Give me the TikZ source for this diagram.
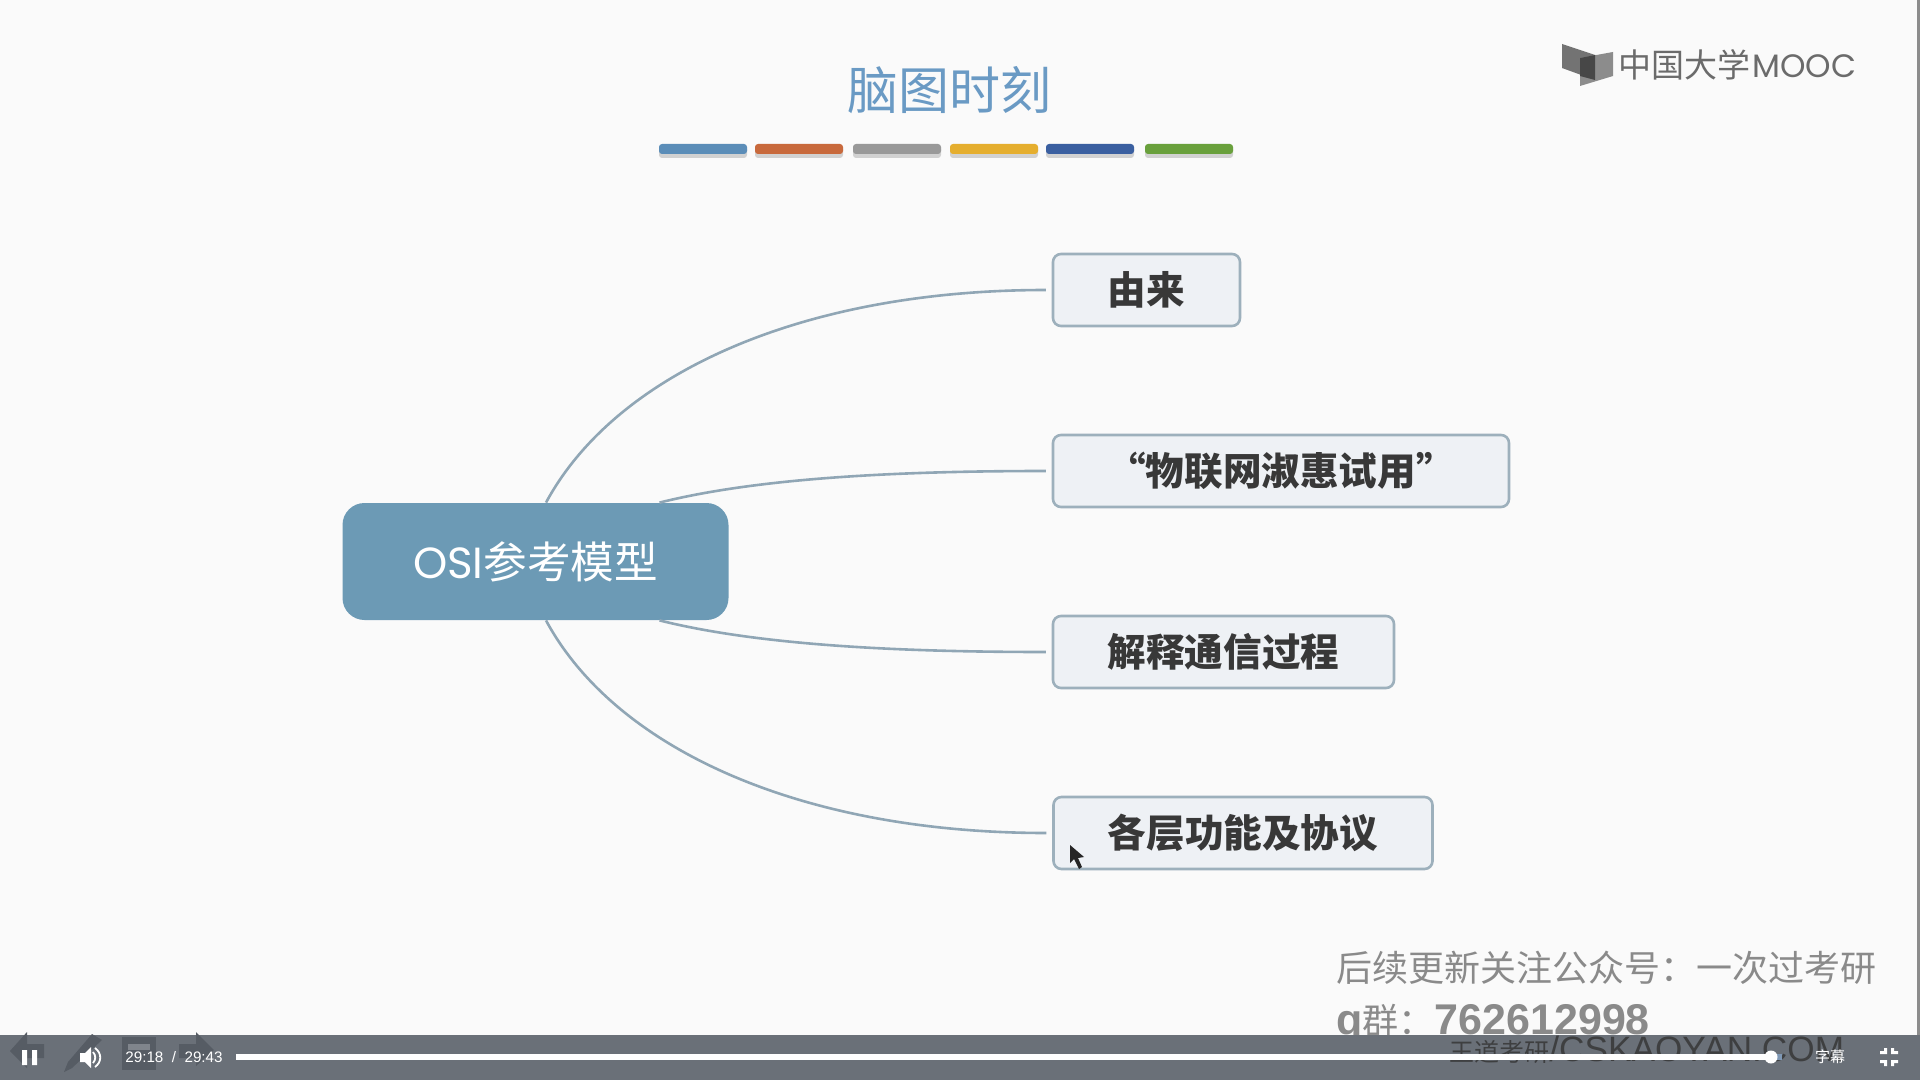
\documentclass[tikz,border=0pt]{standalone}
\usepackage{fontspec}
\usetikzlibrary{calc}
\setmainfont{Noto Sans CJK SC}
\newfontfamily\latinbold{Liberation Sans}[BoldFont={Liberation Sans Bold}]
\newfontfamily\geofont{Poppins}
\definecolor{pagebg}{HTML}{FAFAFA}
\definecolor{rootblue}{HTML}{6C9AB5}
\definecolor{leaffill}{HTML}{EEF1F5}
\definecolor{leafline}{HTML}{9DB0BC}
\definecolor{linkline}{HTML}{90A6B5}
\definecolor{titleblue}{HTML}{6A9AC4}
\definecolor{bargrey}{HTML}{6A7078}
\definecolor{iconshade}{HTML}{565C64}
\definecolor{progressrest}{HTML}{7F98B5}
\definecolor{pilla}{HTML}{5B8DB8}
\definecolor{pillb}{HTML}{C8693C}
\definecolor{pillc}{HTML}{999999}
\definecolor{pilld}{HTML}{E5AE2E}
\definecolor{pille}{HTML}{3A5FA0}
\definecolor{pillf}{HTML}{69A03C}
\tikzset{
  x=0.5pt,y=-0.5pt,
  rootbox/.style={fill=rootblue,rounded corners=11pt,minimum width=193pt,minimum height=58.5pt,inner sep=0pt,text=white,font=\fontsize{21.8}{24}\selectfont},
  leafbox/.style={draw=leafline,fill=leaffill,line width=1.3pt,rounded corners=4pt,minimum height=36pt,inner sep=0pt,outer xsep=3.6pt,text=black!78,font=\bfseries\fontsize{19.3}{22}\selectfont},
  linkcurve/.style={draw=linkline,line width=1.3pt},
  pill/.style={rounded corners=1.5pt,minimum height=5pt,minimum width=44pt,inner sep=0pt},
  pillshade/.style={fill=black,opacity=0.16,rounded corners=1.5pt,minimum height=6pt,minimum width=44pt,inner sep=0pt},
  markgrey/.style={text=black!46,inner sep=0pt,anchor=west},
  ctrl/.style={text=white,inner sep=0pt}
}
\begin{document}
\begin{tikzpicture}
\useasboundingbox (0,0) rectangle (1920,1080);
\fill[pagebg] (0,0) rectangle (1920,1080);
\fill[black!45] (1917,0) rectangle (1920,1035);
% title
\node[text=titleblue,inner sep=0pt,font=\fontsize{25.5}{28}\selectfont] (title) at (949,90) {脑图时刻};
\foreach \n/\cx in {a/703,b/799,c/897,d/994,e/1090,f/1189}{
  \node[pillshade] at (\cx,152) {};
  \node[pill,fill=pill\n] (pill\n) at (\cx,149) {};
}
% logo
\fill[black!55] (1562,44) -- (1595,55) -- (1595,80) -- (1562,68) -- cycle;
\fill[black!45] (1580,58) -- (1613,52) -- (1613,76) -- (1580,86) -- cycle;
\fill[black!72] (1580,58) -- (1595,55) -- (1595,80) -- (1580,76) -- cycle;
\node[text=black!58,inner sep=0pt,anchor=west,font=\fontsize{16.5}{18}\selectfont] (logocn) at (1618,65) {中国大学};
\node[text=black!58,inner sep=0pt,anchor=west,font=\geofont\fontsize{16.2}{18}\selectfont] (logoen) at (1752,66) {MOOC};
% nodes
\node[rootbox] (root) at (535.5,561.5) {{\geofont OSI}参考模型};
\node[leafbox,minimum width=93.5pt] (leafa) at (1146.5,290) {由来};
\node[leafbox,minimum width=228pt] (leafb) at (1281,471) {“物联网淑惠试用”};
\node[leafbox,minimum width=170.5pt] (leafc) at (1223.5,652) {解释通信过程};
\node[leafbox,minimum width=189.5pt] (leafd) at (1243,833) {各层功能及协议};
% connectors
\draw[linkcurve] ($(root.north)+(10.5,0)$) .. controls +(69,-128) and (800,290) .. (leafa.west);
\draw[linkcurve] ($(root.north)+(124,0)$) .. controls +(100,-25) and (900,471) .. (leafb.west);
\draw[linkcurve] ($(root.south)+(124,0)$) .. controls +(100,25) and (900,652) .. (leafc.west);
\draw[linkcurve] ($(root.south)+(10.5,0)$) .. controls +(69,128) and (800,833) .. (leafd.west);
% cursor
\fill[black!85] (1070,845) -- (1070,863) -- (1074,859) -- (1079,869) -- (1082,867) -- (1078,858) -- (1084,857) -- cycle;
% watermark
\node[markgrey,font=\fontsize{18}{20}\selectfont] (markone) at (1336,968) {后续更新关注公众号：一次过考研};
\node[markgrey,font=\fontsize{18}{20}\selectfont] (marktwo) at (1336,1024) {{\latinbold\bfseries\fontsize{21.5}{24}\selectfont q}群：{\latinbold\bfseries\fontsize{21.5}{24}\selectfont 762612998}};
% player bar
\fill[bargrey] (0,1035) rectangle (1920,1080);
\node[text=black!80,opacity=0.8,inner sep=0pt,anchor=west,font=\fontsize{12.5}{15}\selectfont] (markthree) at (1449,1050) {王道考研{\latinbold\fontsize{17.6}{18}\selectfont /CSKAOYAN.COM}};
\fill[iconshade] (44,1044) -- (27,1044) -- (27,1032) -- (10,1051) -- (27,1068) -- (27,1058) -- (44,1058) -- cycle;
\fill[iconshade] (92,1034) -- (102,1040) -- (72,1068) -- (64,1072) -- (68,1062) -- cycle;
\fill[iconshade] (122,1037) rectangle (156,1070);
\fill[bargrey!85!white] (128,1044) rectangle (150,1050);
\fill[iconshade] (179,1044) -- (196,1044) -- (196,1032) -- (214,1050) -- (196,1066) -- (196,1058) -- (179,1058) -- cycle;
% controls
\fill[white] (22,1050) rectangle (27,1065) (32,1050) rectangle (37,1065);
\fill[white] (80,1053) -- (85,1053) -- (91,1047) -- (91,1068) -- (85,1062) -- (80,1062) -- cycle;
\draw[white,line width=0.9pt] (93,1052) .. controls (96,1055) and (96,1060) .. (93,1063);
\draw[white,line width=0.9pt] (95,1048) .. controls (102,1053) and (102,1062) .. (95,1067);
\node[ctrl,font=\latinbold\fontsize{7.6}{9}\selectfont] (clock) at (174,1057.5) {29:18\ \ /\ \ 29:43};
\fill[progressrest] (1771,1054) rectangle (1782,1060);
\fill[white] (236,1054) rectangle (1771,1060);
\fill[white] (1771,1057) circle (6.5);
\node[ctrl,font=\fontsize{7.5}{9}\selectfont] (subs) at (1830,1057) {字幕};
\fill[white] (1880,1051) -- (1884,1051) -- (1884,1048) -- (1887,1048) -- (1887,1054) -- (1880,1054) -- cycle;
\fill[white] (1898,1051) -- (1894,1051) -- (1894,1048) -- (1891,1048) -- (1891,1054) -- (1898,1054) -- cycle;
\fill[white] (1880,1060) -- (1887,1060) -- (1887,1066) -- (1884,1066) -- (1884,1063) -- (1880,1063) -- cycle;
\fill[white] (1898,1060) -- (1891,1060) -- (1891,1066) -- (1894,1066) -- (1894,1063) -- (1898,1063) -- cycle;
\end{tikzpicture}
\end{document}
